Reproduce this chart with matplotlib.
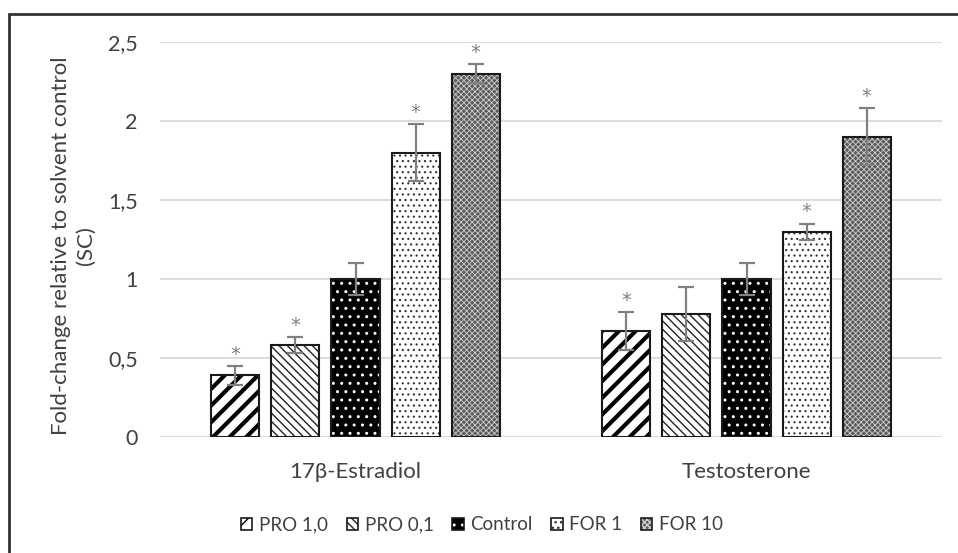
import numpy as np
import matplotlib
matplotlib.use("Agg")
import matplotlib.pyplot as plt
from matplotlib.patches import Patch, Rectangle

plt.rcParams['font.family'] = ['Lato', 'DejaVu Sans']

groups = ['17β-Estradiol', 'Testosterone']
series = ['PRO 1,0', 'PRO 0,1', 'Control', 'FOR 1', 'FOR 10']
values = {
    'PRO 1,0': [0.39, 0.67],
    'PRO 0,1': [0.58, 0.78],
    'Control': [1.00, 1.00],
    'FOR 1':   [1.80, 1.30],
    'FOR 10':  [2.30, 1.90],
}
errors = {
    'PRO 1,0': [0.06, 0.12],
    'PRO 0,1': [0.05, 0.17],
    'Control': [0.10, 0.10],
    'FOR 1':   [0.18, 0.05],
    'FOR 10':  [0.06, 0.18],
}
signif = {
    'PRO 1,0': [True, True],
    'PRO 0,1': [True, False],
    'Control': [False, False],
    'FOR 1':   [True, True],
    'FOR 10':  [True, True],
}

# fill colour, hatch, hatch colour, hatch line width
styles = {
    'PRO 1,0': ('white', '//', 'black', 3.0),
    'PRO 0,1': ('white', '\\\\\\\\', '#222222', 1.0),
    'Control': ('black', '..', 'white', 1.0),
    'FOR 1':   ('white', '...', '#333333', 0.8),
    'FOR 10':  ('#5a5a5a', 'xxxxxx', '#cfcfcf', 0.6),
}

fig = plt.figure(figsize=(9.58, 5.53), dpi=100)
ax = fig.add_axes([160/958, 116/553, 782/958, 395/553])

x = np.arange(len(groups))
width = 0.1228
step = 0.1535

for i, s in enumerate(series):
    fc, hatch, hc, hlw = styles[s]
    pos = x + (i - 2) * step
    with plt.rc_context({'hatch.linewidth': hlw}):
        bars = ax.bar(pos, values[s], width, color=fc, hatch=hatch,
                      edgecolor=hc, linewidth=0, zorder=2)
    for b in bars:
        try:
            b.set_hatch_linewidth(hlw)
        except AttributeError:
            pass
    ax.bar(pos, values[s], width, fill=False, edgecolor='#1a1a1a',
           linewidth=1.5, zorder=3)
    ax.errorbar(pos, values[s], yerr=errors[s], fmt='none', ecolor='#808080',
                elinewidth=1.6, capsize=6, capthick=1.6, zorder=4)
    for p, v, e, sig in zip(pos, values[s], errors[s], signif[s]):
        if sig:
            ax.text(p, v + e + 0.015, '*', ha='center', va='bottom',
                    fontsize=14, family='DejaVu Sans', color='#808080', zorder=5)

ax.set_xlim(-0.5, 1.5)
ax.set_ylim(0, 2.5)
ax.set_yticks([0, 0.5, 1, 1.5, 2, 2.5])
ax.set_yticklabels(['0', '0,5', '1', '1,5', '2', '2,5'])
ax.set_xticks(x)
ax.set_xticklabels(groups)
ax.tick_params(length=0, labelsize=15.5, colors='#404040')
ax.tick_params(axis='y', pad=16)
ax.tick_params(axis='x', labelsize=16, pad=18)
ax.grid(axis='y', color='#d9d9d9', linewidth=1.3, zorder=0)
ax.set_axisbelow(True)
for sp in ax.spines.values():
    sp.set_visible(False)

fig.text(73/958, 1 - 246/553, 'Fold-change relative to solvent control\n(SC)',
         rotation=90, ha='center', va='center', fontsize=16,
         color='#404040', linespacing=1.3)

handles = []
for s in series:
    fc, hatch, hc, hlw = styles[s]
    h1 = Patch(facecolor=fc, hatch=hatch, edgecolor=hc, linewidth=0)
    h2 = Patch(fill=False, edgecolor='#1a1a1a', linewidth=1.2)
    handles.append((h1, h2))
fig.legend(handles, series, loc='center', bbox_to_anchor=(482/958, 1 - 525/553),
           ncol=5, frameon=False, fontsize=13.5, handlelength=0.6,
           handleheight=0.6, handletextpad=0.35, columnspacing=1.0,
           labelcolor='#404040')

# outer frame
fig.patches.append(Rectangle((9/958, -0.05), 1.2, 1.05 - 14/553,
                             transform=fig.transFigure, fill=False,
                             edgecolor='#333333', linewidth=2.0))

fig.savefig('out.png', dpi=100)
